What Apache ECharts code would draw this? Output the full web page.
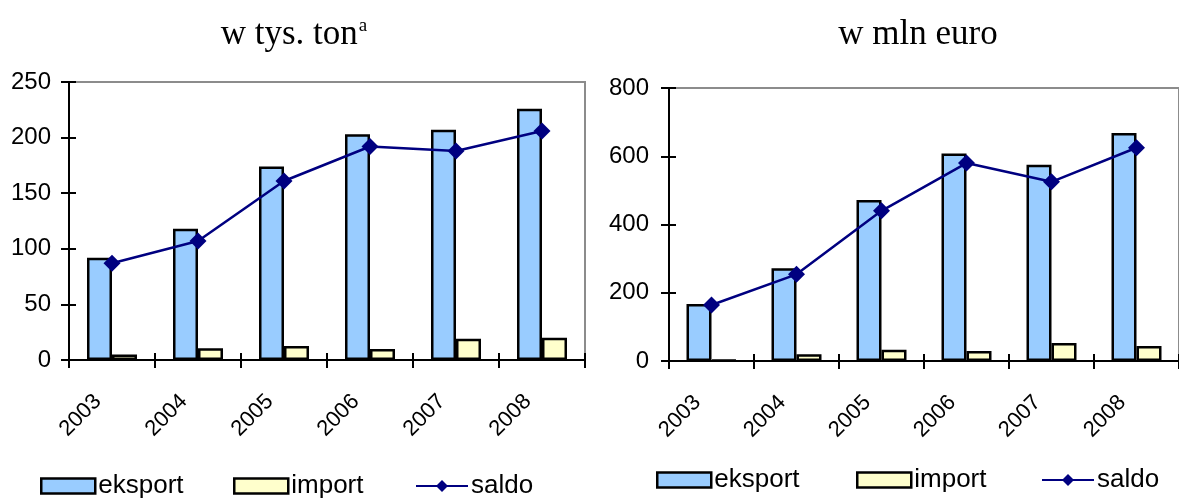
<!DOCTYPE html>
<html>
<head>
<meta charset="utf-8">
<script src="https://cdn.jsdelivr.net/npm/echarts@6/dist/echarts.min.js"></script>
<style>html,body{margin:0;padding:0;background:#fff}#c{width:1179px;height:498px}</style>
</head>
<body>
<div id="c"></div>
<script>
var years = ['2003','2004','2005','2006','2007','2008'];
// w tys. ton
var tonEksport = [92, 118, 174, 203, 207, 226];
var tonImport  = [5, 10.5, 12.5, 10, 19, 20];
var tonSaldo   = [87, 107, 161, 192, 188, 206];
// w mln euro
var eurEksport = [167, 272, 472, 608, 575, 668];
var eurImport  = [3, 20, 33, 29, 53, 44];
var eurSaldo   = [164, 254, 440, 580, 525, 625];
var tonTicks = {min: 0, max: 250, interval: 50};
var eurTicks = {min: 0, max: 800, interval: 200};

var FONT = '"Liberation Sans", Arial, sans-serif';
var SERIF = '"Liberation Serif", "Times New Roman", serif';
var BLUE = '#99CCFF', YEL = '#FFFFCC', NAVY = '#000080';

function grid(left, top, width, height) {
  return {left: left, top: top, width: width, height: height, show: true,
    borderColor: '#8c8c8c', borderWidth: 2, backgroundColor: 'transparent', containLabel: false};
}
function xMain(gi) {
  return {type: 'category', gridIndex: gi, data: years, boundaryGap: true,
    axisLine: {lineStyle: {color: '#000', width: 2}},
    axisTick: {show: true, interval: 0, length: 8, lineStyle: {color: '#000', width: 2}},
    axisLabel: {rotate: 45, margin: 24, color: '#000', fontFamily: FONT, fontSize: 22, interval: 0,
      padding: [0, 20, 0, 0]},
    splitLine: {show: false}};
}
function xHelp(gi) {
  return {type: 'category', gridIndex: gi, data: years, boundaryGap: true, position: 'bottom',
    axisLine: {show: false},
    axisTick: {show: true, inside: true, interval: 0, length: 7, lineStyle: {color: '#000', width: 2}},
    axisLabel: {show: false}, splitLine: {show: false}};
}
function yMain(gi, t, margin) {
  return {type: 'value', gridIndex: gi, min: t.min, max: t.max, interval: t.interval,
    axisLine: {show: true, lineStyle: {color: '#000', width: 2}},
    axisTick: {show: true, length: 8, lineStyle: {color: '#000', width: 2}},
    axisLabel: {color: '#000', fontFamily: FONT, fontSize: 24, margin: margin},
    splitLine: {show: false}};
}
function yHelp(gi, t) {
  return {type: 'value', gridIndex: gi, min: t.min, max: t.max, interval: t.interval, position: 'left',
    axisLine: {show: false},
    axisTick: {show: true, inside: true, length: 7, lineStyle: {color: '#000', width: 2}},
    axisLabel: {show: false}, splitLine: {show: false}};
}
function bars(name, data, color, xi, yi) {
  return {name: name, type: 'bar', xAxisIndex: xi, yAxisIndex: yi, data: data,
    barWidth: 25, barGap: '0%', barCategoryGap: '0%',
    itemStyle: {color: color, borderColor: '#000', borderWidth: 2.5}, z: 2};
}
function line(name, data, xi, yi) {
  return {name: name, type: 'line', xAxisIndex: xi, yAxisIndex: yi, data: data,
    symbol: 'diamond', symbolSize: 17,
    lineStyle: {color: NAVY, width: 2.5}, itemStyle: {color: NAVY}, z: 5};
}
function legend(name, left, top, w, icon) {
  var l = {data: [{name: name, icon: icon}], left: left, top: top, itemWidth: w, itemHeight: 15, itemGap: 0,
    selectedMode: false, padding: 0,
    itemStyle: {borderColor: '#000', borderWidth: 2.5},
    textStyle: {color: '#000', fontFamily: FONT, fontSize: 26, padding: [0, 0, 0, -2]}};
  if (icon !== 'rect') { l.itemStyle = {}; }
  return l;
}

var chart = echarts.init(document.getElementById('c'), null, {renderer: 'canvas'});
chart.setOption({
  animation: false,
  backgroundColor: '#fff',
  title: [
    {text: 'w tys. ton{sup|a}', left: 289, top: 12, textAlign: 'center',
      textStyle: {fontFamily: SERIF, fontSize: 35, fontWeight: 'normal', color: '#000',
        rich: {sup: {fontFamily: SERIF, fontSize: 19, color: '#000', verticalAlign: 'top', padding: [0, 0, 16, 1]}}}},
    {text: 'w mln euro', left: 913, top: 12, textAlign: 'center',
      textStyle: {fontFamily: SERIF, fontSize: 35, fontWeight: 'normal', color: '#000'}}
  ],
  legend: [
    legend('eksport', 40, 473, 54, 'rect'),
    legend('import', 233, 473, 54, 'rect'),
    legend('saldo', 415, 473, 52, null),
    legend('eksport', 656, 467, 54, 'rect'),
    legend('import', 856, 467, 54, 'rect'),
    legend('saldo', 1041, 467, 52, null)
  ],
  grid: [grid(69, 82, 516, 278), grid(669, 88, 522, 273)],
  xAxis: [xMain(0), xMain(1), xHelp(0), xHelp(1)],
  yAxis: [yMain(0, tonTicks, 18), yMain(1, eurTicks, 20), yHelp(0, tonTicks), yHelp(1, eurTicks)],
  series: [
    bars('eksport', tonEksport, BLUE, 0, 0),
    bars('import', tonImport, YEL, 0, 0),
    line('saldo', tonSaldo, 0, 0),
    bars('eksport', eurEksport, BLUE, 1, 1),
    bars('import', eurImport, YEL, 1, 1),
    line('saldo', eurSaldo, 1, 1)
  ]
});
</script>
</body>
</html>
